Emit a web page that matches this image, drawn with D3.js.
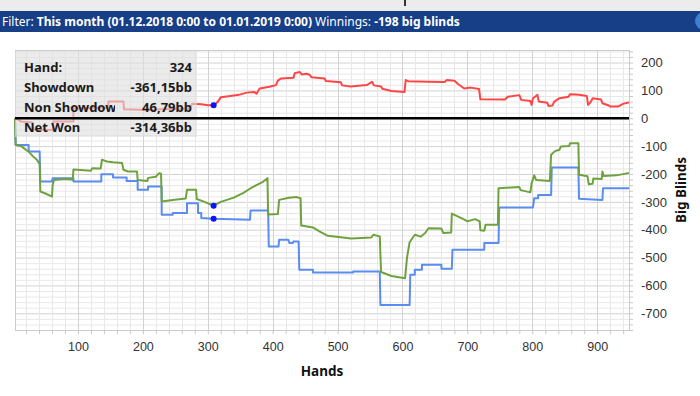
<!DOCTYPE html>
<html><head><meta charset="utf-8">
<script src="https://cdn.jsdelivr.net/npm/d3@7/dist/d3.min.js"></script>
<style>
html,body{margin:0;padding:0;background:#fff;}
svg{display:block;font-family:"Noto Sans","Open Sans",sans-serif;}
</style></head>
<body><svg id="c" width="700" height="396"></svg>
<script>
// ---- data ----
const xTicks = [100,200,300,400,500,600,700,800,900];
const yTicks = [200,100,0,-100,-200,-300,-400,-500,-600,-700];
const headerParts = [["Filter: ",false],["This month (01.12.2018 0:00 to 01.01.2019 0:00)",true],[" Winnings: ",false],["-198 big blinds",true]];
const tooltipLabels = ["Hand:","Showdown","Non Showdown","Net Won"];
const tooltipValues = ["324","-361,15bb","46,79bb","-314,36bb"];
const hoverHand = 309;

const nonShowdown = [[3,0],[8,-5],[12,-12],[30,-15],[31,-40],[62,-42],[62,-12],[93,-12],[93,36],[146,38],[147,60],[170,60],[171,32],[206,30],[240,33],[272,35],[276,52],[290,50],[300,47],[310,47],[315,58],[320,75],[335,80],[348,84],[360,92],[372,94],[375,88],[380,107],[395,113],[405,119],[408,135],[413,143],[432,145],[434,162],[442,166],[445,157],[452,160],[457,156],[460,147],[480,143],[482,134],[505,129],[507,118],[520,114],[545,119],[553,131],[556,118],[567,114],[569,106],[583,98],[603,94],[605,137],[609,133],[640,131],[665,130],[668,137],[680,135],[685,124],[695,107],[705,110],[718,105],[720,68],[758,67],[762,77],[780,83],[783,66],[797,62],[799,48],[801,72],[808,84],[810,60],[823,56],[825,44],[831,46],[834,60],[842,72],[856,77],[858,86],[872,84],[884,80],[886,48],[890,58],[893,72],[906,67],[908,54],[918,46],[920,42],[932,42],[940,52],[949,57]];

const netWon = [[3,0],[4,-96],[13,-101],[18,-110],[24,-120],[30,-135],[37,-150],[41,-165],[42,-263],[50,-270],[60,-281],[61,-240],[63,-222],[80,-218],[92,-221],[93,-184],[120,-188],[122,-179],[135,-180],[137,-149],[141,-152],[145,-155],[154,-158],[168,-161],[170,-185],[177,-191],[191,-191],[192,-222],[207,-225],[208,-214],[220,-210],[225,-197],[228,-199],[229,-299],[246,-293],[266,-288],[268,-257],[282,-257],[283,-290],[295,-300],[309,-314],[320,-300],[340,-285],[355,-268],[365,-253],[375,-240],[385,-228],[392,-215],[393,-345],[408,-344],[410,-293],[425,-285],[437,-283],[443,-287],[444,-385],[462,-392],[472,-406],[485,-422],[521,-432],[552,-428],[555,-418],[565,-424],[567,-552],[583,-566],[604,-574],[607,-500],[611,-445],[619,-418],[628,-425],[635,-412],[640,-395],[660,-396],[663,-412],[675,-410],[676,-342],[694,-362],[700,-370],[712,-362],[719,-370],[720,-402],[726,-404],[728,-382],[747,-382],[748,-251],[780,-247],[782,-258],[797,-266],[799,-233],[803,-205],[806,-222],[827,-225],[829,-131],[835,-118],[842,-113],[844,-101],[857,-100],[858,-90],[871,-90],[872,-203],[885,-208],[887,-237],[893,-235],[894,-216],[907,-218],[908,-191],[910,-207],[930,-205],[949,-196]];

const showdown = [[3,0],[4,-96],[24,-96],[24,-119],[41,-119],[42,-227],[60,-227],[61,-215],[93,-215],[93,-227],[136,-227],[136,-201],[154,-201],[154,-213],[175,-213],[175,-225],[192,-225],[192,-257],[208,-257],[208,-245],[229,-245],[229,-346],[246,-346],[246,-340],[268,-340],[268,-305],[285,-305],[285,-340],[290,-340],[290,-358],[309,-361],[365,-364],[366,-331],[393,-331],[394,-460],[409,-460],[410,-436],[424,-436],[426,-448],[431,-448],[432,-442],[440,-442],[441,-544],[462,-544],[462,-554],[524,-554],[524,-550],[565,-550],[566,-670],[611,-670],[612,-562],[619,-562],[619,-544],[630,-544],[630,-526],[660,-526],[660,-540],[676,-540],[677,-472],[726,-472],[726,-448],[748,-448],[749,-320],[801,-320],[803,-287],[809,-287],[809,-275],[829,-275],[830,-177],[871,-177],[872,-289],[908,-293],[909,-251],[949,-251]];

// ---- drawing ----
const svg = d3.select("#c");
const L=15, R=629, T=50, B=330;
const x = d3.scaleLinear().domain([3,949]).range([L,R]);
const y = d3.scaleLinear().domain([-760,245]).range([B,T]);

// header
svg.append("rect").attr("x",0).attr("y",0).attr("width",700).attr("height",11).attr("fill","#ececec");
svg.append("rect").attr("x",404).attr("y",0).attr("width",2).attr("height",6).attr("fill","#333");
svg.append("rect").attr("x",0).attr("y",11).attr("width",700).attr("height",21).attr("fill","#173f88");
svg.append("circle").attr("cx",704).attr("cy",21).attr("r",9).attr("fill","#3f7fcf");
const ht = svg.append("text").attr("x",2).attr("y",26).attr("fill","#fff").attr("font-size",12);
headerParts.forEach(p=>ht.append("tspan").text(p[0]).attr("font-weight",p[1]?"bold":"normal"));

// grid
const g = svg.append("g");
const yMinor = d3.range(-760,245,20);
g.selectAll(".hy").data(yMinor).join("line")
  .attr("x1",L).attr("x2",R).attr("y1",d=>y(d)+0.5).attr("y2",d=>y(d)+0.5)
  .attr("stroke",d=>d%100===0?"#d2d2d2":"#e8e8e8").attr("stroke-width",1);
const xMinor = d3.range(20,949,20);
g.selectAll(".vx").data(xMinor).join("line")
  .attr("y1",T).attr("y2",B).attr("x1",d=>Math.round(x(d))+0.5).attr("x2",d=>Math.round(x(d))+0.5)
  .attr("stroke",d=>d%100===0?"#d2d2d2":"#e8e8e8").attr("stroke-width",1);
// border
svg.append("rect").attr("x",L+0.5).attr("y",T+0.5).attr("width",R-L).attr("height",B-T)
  .attr("fill","none").attr("stroke","#cccccc");

// axes
const xAxis = d3.axisBottom(x).tickValues(xMinor).tickSize(4).tickFormat(d=>xTicks.includes(d)?d:"");
const xa = svg.append("g").attr("transform",`translate(0,${B})`).call(xAxis);
xa.select(".domain").remove();
xa.selectAll(".tick line").attr("stroke","#c8c8c8");
xa.selectAll(".tick text").attr("font-size",12.5).attr("fill","#333").attr("dy","1.1em").attr("font-family","inherit");
const yAxis = d3.axisRight(y).tickValues(yMinor).tickSize(4).tickFormat(d=>yTicks.includes(d)?d:"");
const ya = svg.append("g").attr("transform",`translate(${R},0)`).call(yAxis);
ya.select(".domain").remove();
ya.selectAll(".tick line").attr("stroke","#c8c8c8");
ya.selectAll(".tick text").attr("font-size",13).attr("fill","#333").attr("x",12).attr("font-family","inherit");

svg.append("text").attr("x",(L+R)/2).attr("y",376).attr("text-anchor","middle")
  .attr("font-size",13.5).attr("font-weight","bold").attr("fill","#111").text("Hands");
svg.append("text").attr("transform","translate(686,190) rotate(-90)").attr("text-anchor","middle")
  .attr("font-size",13.5).attr("font-weight","bold").attr("fill","#111").text("Big Blinds");

// lines
const line = d3.line().x(d=>x(d[0])).y(d=>y(d[1]));
const series = [[showdown,"#5b8cf0"],[netWon,"#6fa23f"],[nonShowdown,"#ff4545"]];
series.forEach(s=>svg.append("path").datum(s[0]).attr("d",line)
  .attr("fill","none").attr("stroke",s[1]).attr("stroke-width",2).attr("stroke-linejoin","round"));

// tooltip box
svg.append("rect").attr("x",15).attr("y",51).attr("width",182).attr("height",86)
  .attr("fill","#dedede").attr("opacity",0.62);
// zero line
svg.append("line").attr("x1",L).attr("x2",R).attr("y1",y(0)).attr("y2",y(0)).attr("stroke","#000").attr("stroke-width",2.5);

// hover dots
const valAt = (arr,h)=>{for(let i=1;i<arr.length;i++){if(arr[i][0]>=h){const a=arr[i-1],b=arr[i];return b[0]===a[0]?b[1]:a[1]+(b[1]-a[1])*(h-a[0])/(b[0]-a[0]);}}return arr[arr.length-1][1];};
[nonShowdown,netWon,showdown].forEach(arr=>svg.append("circle").attr("cx",x(hoverHand)).attr("cy",y(valAt(arr,hoverHand))).attr("r",3).attr("fill","#0a14ff"));

// tooltip text
svg.append("defs").append("clipPath").attr("id","lab").append("rect").attr("x",15).attr("y",50).attr("width",100).attr("height",90);
const tl = svg.append("g").attr("clip-path","url(#lab)");
tooltipLabels.forEach((t,i)=>tl.append("text").attr("x",24).attr("y",72+i*20).attr("font-size",13).attr("font-weight","bold").attr("fill","#1a1a1a").text(t));
tooltipValues.forEach((t,i)=>svg.append("text").attr("x",192).attr("y",72+i*20).attr("text-anchor","end").attr("font-size",13).attr("font-weight","bold").attr("fill","#1a1a1a").text(t));
</script></body></html>
